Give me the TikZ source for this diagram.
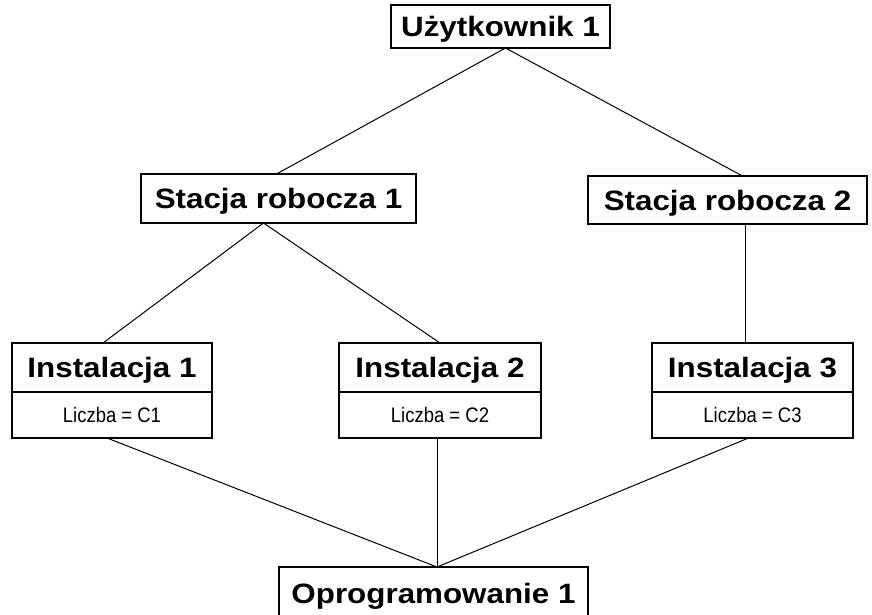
\documentclass[tikz,border=0pt]{standalone}
\usepackage{fontspec}
\setmainfont{Liberation Sans}
\newfontfamily\titlefont[FakeStretch=1.12]{Liberation Sans}
\newfontfamily\countfont[FakeStretch=0.88]{Liberation Sans}
\usepackage{tikz}
\usetikzlibrary{positioning}
\tikzset{
  box/.style      = {rectangle, draw=black, line width=1.6pt, fill=white,
                     inner sep=0pt, outer sep=0pt, align=center,
                     text height=20pt, text depth=0pt,
                     font=\titlefont\bfseries\fontsize{28}{30}\selectfont},
  countbox/.style = {rectangle, draw=black, line width=1.6pt, fill=white,
                     inner sep=0pt, outer sep=0pt, align=center,
                     text height=15pt, text depth=0pt,
                     font=\countfont\fontsize{21}{24}\selectfont},
  link/.style     = {draw=black, line width=1pt},
}
\begin{document}
\begin{tikzpicture}[x=1pt, y=-1pt]
  \useasboundingbox (0,0) rectangle (872,615);

  % links first, boxes on top
  \coordinate (hub) at (437,567);

  % top level
  \node[box, minimum width=219pt, minimum height=43pt] (user) at (500.5,26.5) {Użytkownik 1};

  % workstations
  \node[box, minimum width=275pt, minimum height=49pt] (ws1) at (278.5,198.5) {Stacja robocza 1};
  \node[box, minimum width=279pt, minimum height=48pt] (ws2) at (727.5,200) {Stacja robocza 2};

  % installations
  \node[box, minimum width=200pt, minimum height=49pt] (inst1) at (112,367.5) {Instalacja 1};
  \node[countbox, minimum width=200pt, minimum height=46pt, below=0pt of inst1] (cnt1) {Liczba = C1};
  \node[box, minimum width=202pt, minimum height=49pt] (inst2) at (440,367.5) {Instalacja 2};
  \node[countbox, minimum width=202pt, minimum height=46pt, below=0pt of inst2] (cnt2) {Liczba = C2};
  \node[box, minimum width=201pt, minimum height=49pt] (inst3) at (752.5,367.5) {Instalacja 3};
  \node[countbox, minimum width=201pt, minimum height=46pt, below=0pt of inst3] (cnt3) {Liczba = C3};

  % software
  \node[box, minimum width=309pt, minimum height=52pt] (soft) at (433.5,593) {Oprogramowanie 1};

  \draw[link] ([xshift=5pt]user.south) -- ([xshift=-2pt]ws1.north);
  \draw[link] ([xshift=5pt]user.south) -- ([xshift=15pt]ws2.north);
  \draw[link] ([xshift=-15pt]ws1.south) -- ([xshift=-9pt]inst1.north);
  \draw[link] ([xshift=-15pt]ws1.south) -- (inst2.north);
  \draw[link] ([xshift=-7pt]inst3.north) -- ([xshift=-7pt]inst3.north |- ws2.south);
  \draw[link] ([xshift=-5pt]cnt1.south) -- (hub);
  \draw[link] ([xshift=-3pt]cnt2.south) -- (hub);
  \draw[link] ([xshift=-4pt]cnt3.south) -- (hub);
\end{tikzpicture}
\end{document}
